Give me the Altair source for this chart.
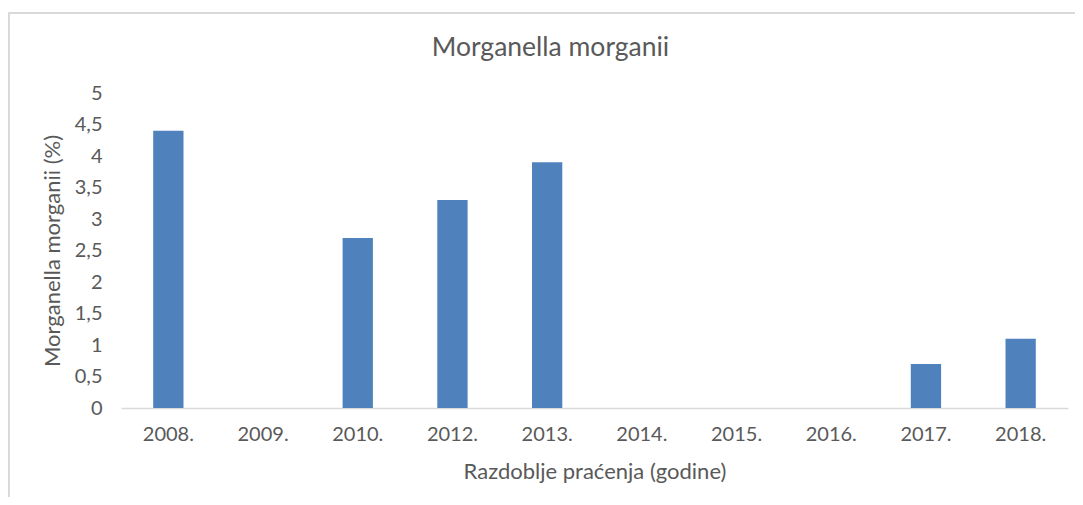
import altair as alt
import pandas as pd

years = ["2008.", "2009.", "2010.", "2012.", "2013.", "2014.", "2015.", "2016.", "2017.", "2018."]
values = [4.4, 0, 2.7, 3.3, 3.9, 0, 0, 0, 0.7, 1.1]

df = pd.DataFrame({"godina": years, "vrijednost": values})

FONT = "Lato"
TXT = "#595959"

bars = alt.Chart(df).mark_bar(color="#4f81bd").encode(
    x=alt.X("godina:N", sort=years,
            scale=alt.Scale(paddingInner=0.68, paddingOuter=0.34),
            axis=alt.Axis(title="Razdoblje praćenja (godine)", labelAngle=0,
                          labelFontSize=20, labelColor=TXT, labelFont=FONT,
                          labelPadding=16, ticks=False, domainColor="#d9d9d9",
                          domainWidth=1.5, titleFont=FONT, titleFontSize=22,
                          titleFontWeight="normal", titleColor=TXT, titlePadding=17)),
    y=alt.Y("vrijednost:Q",
            scale=alt.Scale(domain=[0, 5]),
            axis=alt.Axis(title="Morganella morganii (%)", values=[0, 0.5, 1, 1.5, 2, 2.5, 3, 3.5, 4, 4.5, 5],
                          labelExpr="replace(format(datum.value, '~g'), '.', ',')",
                          labelFontSize=20, labelColor=TXT, labelFont=FONT,
                          labelPadding=19, ticks=False, domain=False, grid=False,
                          titleFont=FONT, titleFontSize=22, titleFontWeight="normal",
                          titleColor=TXT, titlePadding=10)),
)

border = alt.Chart(df).mark_rect(fill=None, stroke="#d9d9d9", strokeWidth=2).encode(
    x=alt.value(-112), x2=alt.value(1000), y=alt.value(-80), y2=alt.value(500)
)

chart = alt.layer(border, bars).properties(
    width=947, height=315,
    title=alt.TitleParams("Morganella morganii", font=FONT, fontSize=26.5, fontWeight="normal",
                          color=TXT, anchor="middle", frame="group", dx=-44, offset=-49),
    autosize=alt.AutoSizeParams(type="none"),
    padding={"left": 113, "top": 85, "right": 7, "bottom": 89},
).configure_view(stroke=None).configure_axis(grid=False)

chart.save("out.html", embed_options={"renderer": "svg", "actions": False})
